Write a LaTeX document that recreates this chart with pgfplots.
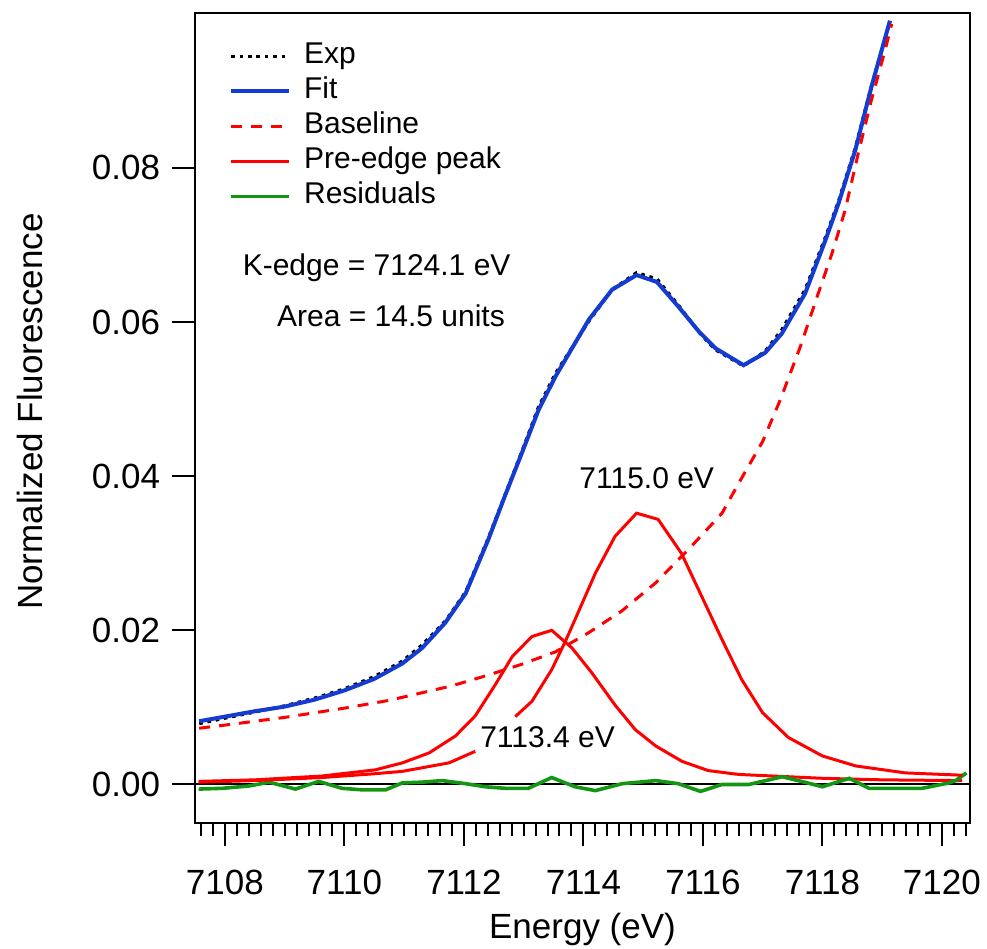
\documentclass[border=0pt]{standalone}
\usepackage{fontspec}
\setmainfont{Liberation Sans}
\usepackage{pgfplots}
\pgfplotsset{compat=1.18}

\definecolor{fitblue}{RGB}{20,60,210}
\definecolor{pkred}{RGB}{255,0,0}
\definecolor{resgreen}{RGB}{20,150,20}
\newcommand{\tickfont}{\fontsize{17.5}{21}\selectfont}
\newcommand{\smallfont}{\fontsize{15}{18}\selectfont}

\begin{document}
\begin{tikzpicture}
\begin{axis}[
  width=387.5pt, height=405pt, scale only axis,
  xmin=7107.5, xmax=7120.47, ymin=-0.005, ymax=0.1001,
  axis line style={line width=1pt},
  xtick={7108,7110,7112,7114,7116,7118,7120},
  minor xtick={7107.6,7107.8,...,7120.4},
  ytick={0,0.02,0.04,0.06,0.08},
  tick align=outside, xtick pos=left, ytick pos=left,
  major tick length=11.5pt, minor tick length=6.5pt,
  every tick/.style={black, line width=1pt},
  /pgf/number format/assume math mode=true,
  ticklabel style={font=\tickfont},
  scaled y ticks=false,
  yticklabel style={xshift=-2.5pt, /pgf/number format/.cd, fixed, fixed zerofill, precision=2},
  xticklabel style={yshift=-8.5pt, /pgf/number format/.cd, set thousands separator={}},
  xlabel={Energy (eV)}, ylabel={Normalized Fluorescence},
  xlabel style={font=\tickfont, at={(axis description cs:0.5,0)}, anchor=base, yshift=-57.6pt},
  ylabel style={font=\tickfont, at={(axis description cs:-0.2129,0.508)}, anchor=center},
  unbounded coords=jump,
  legend style={at={(axis description cs:0.0435,0.9685)}, anchor=north west,
    draw=none, fill=none, font=\smallfont, inner sep=0pt, row sep=0pt,
    nodes={inner sep=1.5pt, text height=11pt, text depth=3.5pt},
    cells={anchor=west}},
  legend image code/.code={\draw[#1] (0pt,0pt) -- (29pt,0pt); \path (34pt,0pt);},
]
% zero line
\addplot[black, line width=1pt, forget plot] coordinates {(7107.5,0) (7120.47,0)};

% Exp
\addplot[black, line width=1.6pt, dash pattern=on 1.8pt off 2.4pt] coordinates {
(7107.57,0.0079) (7108.0,0.0086) (7108.5,0.0094) (7109.0,0.0102) (7109.5,0.0112)
(7110.0,0.0124) (7110.5,0.0140) (7110.97,0.0160) (7111.3,0.0181) (7111.69,0.0212)
(7112.03,0.0250) (7112.41,0.0320) (7112.69,0.0376) (7112.97,0.0432) (7113.25,0.0490)
(7113.53,0.0533) (7113.81,0.0567) (7114.09,0.0601) (7114.48,0.0642) (7114.89,0.0664)
(7115.23,0.0656) (7115.59,0.0622) (7115.93,0.0587) (7116.21,0.0564) (7116.68,0.0543)
(7117.04,0.0562) (7117.32,0.0590) (7117.71,0.0642) (7118.05,0.0710) (7118.27,0.0757)
(7118.55,0.0826) (7118.82,0.0906) (7119.13,0.0990)};
\addlegendentry{Exp}

% Fit
\addplot[fitblue, line width=2pt] coordinates {
(7107.57,0.0082) (7108.0,0.0088) (7108.5,0.0095) (7109.0,0.0101) (7109.5,0.0110)
(7110.0,0.0122) (7110.5,0.0137) (7110.97,0.0157) (7111.3,0.0177) (7111.69,0.0210)
(7112.03,0.0248) (7112.41,0.0318) (7112.69,0.0375) (7112.97,0.0430) (7113.25,0.0486)
(7113.53,0.0529) (7113.81,0.0566) (7114.09,0.0603) (7114.48,0.0642) (7114.89,0.0661)
(7115.23,0.0652) (7115.59,0.0620) (7115.93,0.0588) (7116.21,0.0566) (7116.68,0.0544)
(7117.04,0.0560) (7117.32,0.0585) (7117.71,0.0637) (7118.05,0.0706) (7118.27,0.0754)
(7118.55,0.0823) (7118.82,0.0905) (7119.13,0.0991)};
\addlegendentry{Fit}

% Baseline
\addplot[pkred, line width=1.5pt, dash pattern=on 5.5pt off 4.5pt] coordinates {
(7107.57,0.0073) (7108.0,0.0077) (7109.0,0.0087) (7110.0,0.0099) (7110.74,0.0109)
(7111.3,0.0119) (7111.8,0.0128) (7112.41,0.0142) (7112.97,0.0156) (7113.53,0.0172)
(7114.09,0.0197) (7114.64,0.0225) (7115.2,0.0261) (7115.76,0.0305) (7116.32,0.0352)
(7116.6,0.0391) (7117.0,0.0445) (7117.3,0.0500) (7117.63,0.0568) (7117.93,0.0637)
(7118.16,0.0689) (7118.38,0.0745) (7118.6,0.0819) (7118.82,0.0888) (7119.05,0.0953)
(7119.16,0.0987)};
\addlegendentry{Baseline}

% Pre-edge peak at 7113.4 eV
\addplot[pkred, line width=1.5pt] coordinates {
(7107.56,0.0004) (7108.5,0.0006) (7109.63,0.0011) (7110.52,0.0019) (7110.97,0.0028)
(7111.42,0.0041) (7111.86,0.0063) (7112.19,0.0089) (7112.53,0.0130) (7112.81,0.0166)
(7113.14,0.0192) (7113.47,0.0200) (7113.81,0.0177) (7114.14,0.0145) (7114.53,0.0103)
(7114.87,0.0071) (7115.21,0.0050) (7115.65,0.0030) (7116.09,0.0018) (7116.6,0.0013)
(7117.16,0.0011) (7118.0,0.0008) (7119.0,0.0006) (7120.34,0.0005)};
\addlegendentry{Pre-edge peak}

% Residuals
\addplot[resgreen, line width=1.8pt] coordinates {
(7107.56,-0.0006) (7107.96,-0.0005) (7108.4,-0.0002) (7108.74,0.0003) (7109.18,-0.0006)
(7109.57,0.0004) (7109.96,-0.0005) (7110.3,-0.0007) (7110.69,-0.0007) (7110.97,0.0002)
(7111.3,0.0003) (7111.64,0.0005) (7112.03,0.0001) (7112.36,-0.0003) (7112.69,-0.0005)
(7113.08,-0.0005) (7113.47,0.0009) (7113.86,-0.0003) (7114.2,-0.0008) (7114.65,0.0001)
(7115.21,0.0005) (7115.59,0.0001) (7115.96,-0.0009) (7116.32,0.0) (7116.77,0.0)
(7117.33,0.0010) (7117.7,0.0003) (7118.0,-0.0003) (7118.45,0.0008) (7118.78,-0.0005)
(7119.2,-0.0005) (7119.67,-0.0005) (7120.12,0.0002) (7120.23,0.0005) (7120.41,0.0015)};
\addlegendentry{Residuals}

% Pre-edge peak at 7115.0 eV (gap under the label)
\addplot[pkred, line width=1.5pt, forget plot] coordinates {
(7107.56,0.0003) (7108.5,0.0005) (7109.63,0.0009) (7110.52,0.0014) (7110.97,0.0017)
(7111.75,0.0028) (7112.19,0.0043) (7112.5,nan) (7112.86,0.0088) (7113.14,0.0108)
(7113.47,0.0149) (7113.7,0.0186) (7113.86,0.0214) (7114.2,0.0274) (7114.53,0.0322)
(7114.89,0.0352) (7115.25,0.0344) (7115.64,0.0300) (7115.98,0.0244) (7116.32,0.0188)
(7116.65,0.0136) (7117.0,0.0093) (7117.43,0.0061) (7118.0,0.0037) (7118.56,0.0024)
(7119.39,0.0015) (7120.34,0.0012)};

\node[font=\smallfont] at (axis cs:7110.54,0.0670) {K-edge = 7124.1 eV};
\node[font=\smallfont] at (axis cs:7110.78,0.0608) {Area = 14.5 units};
\node[font=\smallfont] at (axis cs:7115.06,0.0398) {7115.0 eV};
\node[font=\smallfont] at (axis cs:7113.40,0.0062) {7113.4 eV};

\coordinate (sw) at (rel axis cs:0,0);
\coordinate (ne) at (rel axis cs:1,1);
\end{axis}
\pgfresetboundingbox
\path ([shift={(-97.5pt,-63pt)}]sw) rectangle ([shift={(8.5pt,6.5pt)}]ne);
\end{tikzpicture}
\end{document}
